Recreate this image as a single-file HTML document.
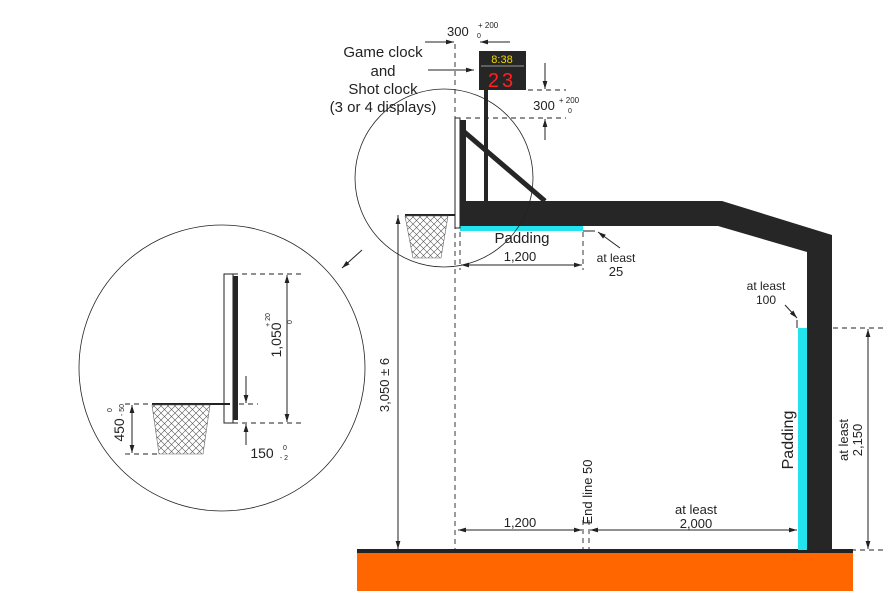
<!DOCTYPE html>
<html><head><meta charset="utf-8"><style>body{margin:0;background:#fff}svg{display:block}text{font-family:"Liberation Sans",sans-serif;fill:#222}</style></head><body>
<svg width="895" height="593" viewBox="0 0 895 593" xmlns="http://www.w3.org/2000/svg">
<defs><marker id="a" viewBox="0 0 10 10" refX="10" refY="5" markerWidth="8" markerHeight="8" orient="auto-start-reverse"><path d="M0,2 L10,5 L0,8 z" fill="#222"/></marker>
<pattern id="net" width="7" height="7" patternUnits="userSpaceOnUse"><path d="M0,0 L7,7 M7,0 L0,7" stroke="#555" stroke-width="0.6"/></pattern></defs>
<g stroke="#222" fill="none">
<rect x="357" y="553" width="496" height="38" fill="#ff6600" stroke="none"/>
<rect x="357" y="549" width="496" height="4" fill="#222" stroke="none"/>
<path d="M458,201 L722,201 L832,235 L832,550 L807,550 L807,252 L718,226 L458,226 Z" fill="#262626" stroke="none"/>
<rect x="798" y="328" width="9" height="222" fill="#22e3ee" stroke="none"/>
<rect x="460" y="226" width="123" height="5" fill="#22e3ee" stroke="none"/>
<line x1="545" y1="201" x2="462" y2="130" stroke-width="5" stroke="#262626"/>
<rect x="484" y="90" width="4" height="112" fill="#262626" stroke="none"/>
<rect x="455" y="118" width="5" height="110" fill="#fff" stroke-width="1"/>
<rect x="460" y="120" width="6" height="106" fill="#262626" stroke="none"/>
<rect x="479" y="51" width="47" height="39" fill="#262626" stroke="none"/>
<line x1="481" y1="66" x2="524" y2="66" stroke="#999"/>
</g>
<text x="502" y="63" font-size="11" text-anchor="middle" fill="#e8d000" style="fill:#f0d800">8:38</text>
<text x="502" y="87" font-size="20" text-anchor="middle" fill="#e01010" style="fill:#ff2020;letter-spacing:3px">23</text>
<g stroke="#222" fill="none">
<line x1="405" y1="215" x2="455" y2="215" stroke-width="2"/>
<path d="M405,216 L448,216 L441,258 L413,258 Z" fill="url(#net)" stroke="#666" stroke-width="0.6"/>
<circle cx="444" cy="178" r="89" stroke-width="0.8"/>
<circle cx="222" cy="368" r="143" stroke-width="0.8"/>
<line x1="362" y1="250" x2="342" y2="268" marker-end="url(#a)"/>
<g stroke-dasharray="5,4" stroke-width="0.9">
<line x1="455" y1="44" x2="455" y2="550"/>
<line x1="460" y1="232" x2="460" y2="270"/>
<line x1="583" y1="232" x2="583" y2="270"/>
<line x1="583" y1="520" x2="583" y2="550"/><line x1="589" y1="520" x2="589" y2="550"/>
<line x1="528" y1="90" x2="566" y2="90"/><line x1="466" y1="118" x2="566" y2="118"/>
<line x1="833" y1="328" x2="885" y2="328"/><line x1="833" y1="550" x2="885" y2="550"/>
<line x1="233" y1="274" x2="305" y2="274"/><line x1="233" y1="423" x2="305" y2="423"/>
<line x1="230" y1="404" x2="258" y2="404"/><line x1="125" y1="454" x2="158" y2="454"/>
</g>
<line x1="583" y1="231" x2="595" y2="231"/>
<line x1="398" y1="215" x2="398" y2="550"/>
<line x1="398" y1="300" x2="398" y2="216" marker-end="url(#a)"/><line x1="398" y1="500" x2="398" y2="549" marker-end="url(#a)"/>
<line x1="461" y1="265" x2="582" y2="265" marker-start="url(#a)" marker-end="url(#a)"/>
<line x1="458" y1="530" x2="582" y2="530" marker-start="url(#a)" marker-end="url(#a)"/>
<line x1="590" y1="530" x2="797" y2="530" marker-start="url(#a)" marker-end="url(#a)"/>
<line x1="868" y1="329" x2="868" y2="549" marker-start="url(#a)" marker-end="url(#a)"/>
<line x1="425" y1="42" x2="454" y2="42" marker-end="url(#a)"/><line x1="510" y1="42" x2="480" y2="42" marker-end="url(#a)"/>
<line x1="428" y1="70" x2="474" y2="70" marker-end="url(#a)"/>
<line x1="545" y1="63" x2="545" y2="89" marker-end="url(#a)"/><line x1="545" y1="140" x2="545" y2="119" marker-end="url(#a)"/>
<line x1="620" y1="248" x2="598" y2="232" marker-end="url(#a)"/>
<line x1="785" y1="305" x2="797" y2="318" marker-end="url(#a)"/>
<line x1="797" y1="320" x2="797" y2="328"/>
<rect x="224" y="274" width="9" height="149" fill="#fff"/>
<rect x="233" y="276" width="5" height="144" fill="#262626" stroke="none"/>
<line x1="152" y1="404" x2="230" y2="404" stroke-width="2"/>
<path d="M152,405 L210,405 L203,454 L159,454 Z" fill="url(#net)" stroke="#666" stroke-width="0.6"/>
<line x1="287" y1="275" x2="287" y2="422" marker-start="url(#a)" marker-end="url(#a)"/>
<line x1="132" y1="405" x2="132" y2="453" marker-start="url(#a)" marker-end="url(#a)"/>
<line x1="125" y1="404" x2="152" y2="404" stroke-dasharray="5,4"/>
<line x1="246" y1="376" x2="246" y2="403" marker-end="url(#a)"/><line x1="246" y1="445" x2="246" y2="424" marker-end="url(#a)"/>
</g>
<g font-size="15" text-anchor="middle">
<text x="383" y="57">Game clock</text><text x="383" y="76">and</text><text x="383" y="94">Shot clock</text><text x="383" y="112">(3 or 4 displays)</text>
<text x="522" y="243" font-size="15">Padding</text>
<text x="520" y="261" font-size="13">1,200</text>
<text x="616" y="262" font-size="12">at least</text><text x="616" y="276" font-size="13">25</text>
<text x="766" y="290" font-size="12">at least</text><text x="766" y="304" font-size="12">100</text>
<text x="520" y="527" font-size="13">1,200</text>
<text x="696" y="514" font-size="13">at least</text><text x="696" y="528" font-size="13">2,000</text>
<text x="447" y="36" font-size="13" text-anchor="start">300</text><text x="478" y="28" font-size="8" text-anchor="start">+ 200</text><text x="477" y="38" font-size="7" text-anchor="start">0</text>
<text x="544" y="110" font-size="13">300</text><text x="569" y="103" font-size="8">+ 200</text><text x="570" y="113" font-size="7">0</text>
<text x="262" y="458" font-size="14">150</text><text x="285" y="450" font-size="7">0</text><text x="284" y="460" font-size="7">- 2</text>
</g>
<g font-size="13" text-anchor="middle">
<text transform="translate(389,385) rotate(-90)">3,050 ± 6</text>
<text transform="translate(793,440) rotate(-90)" font-size="16">Padding</text>
<text transform="translate(848,440) rotate(-90)">at least</text><text transform="translate(862,440) rotate(-90)">2,150</text>
<text transform="translate(592,492) rotate(-90)">End line 50</text>
<text transform="translate(281,340) rotate(-90)" font-size="14">1,050</text><text transform="translate(270,320) rotate(-90)" font-size="7">+ 20</text><text transform="translate(292,322) rotate(-90)" font-size="7">0</text>
<text transform="translate(124,430) rotate(-90)" font-size="14">450</text><text transform="translate(112,410) rotate(-90)" font-size="7">0</text><text transform="translate(124,410) rotate(-90)" font-size="7">- 50</text>
</g>
</svg>
</body></html>
